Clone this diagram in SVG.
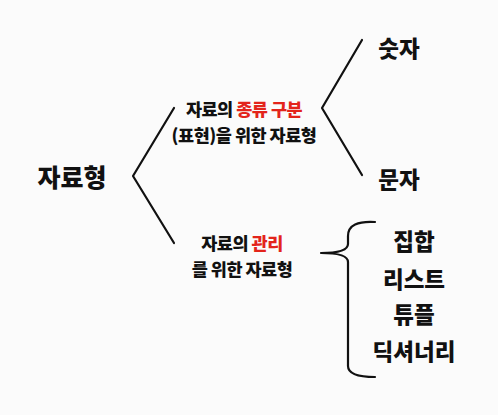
<svg xmlns="http://www.w3.org/2000/svg" width="498" height="415" viewBox="0 0 498 415">
<style>
.t{font-family:"Noto Sans CJK KR","Noto Sans",sans-serif;font-weight:900;fill:#111;text-anchor:middle;dominant-baseline:central}
.big{font-size:22.5px}
.root{font-size:25px}
.mid{font-size:17.5px;letter-spacing:-0.5px}
.red{fill:#e3241b}
.ln{fill:none;stroke:#111;stroke-width:2.2;stroke-linecap:round;stroke-linejoin:round}
</style>
<rect width="498" height="415" fill="#fbfbfb"/>
<g id="connectors">
<polyline class="ln" points="174,108 133,176 174,243"/>
<polyline class="ln" points="362,40 322,108 362,175"/>
<path class="ln" d="M375,222 C358,221 348,225 348,236 L348,244 C348,250 340,253 321,253 C340,253 348,256 348,262 L348,366 C348,374 358,377 375,377"/>
</g>
<g id="root"><text class="t root" x="72" y="176">자료형</text></g>
<g id="kind"><text class="t mid" x="244" y="108">자료의 <tspan class="red">종류 구분</tspan></text><text class="t mid" x="244" y="134">(표현)을 위한 자료형</text></g>
<g id="manage"><text class="t mid" x="242" y="242">자료의 <tspan class="red">관리</tspan></text><text class="t mid" x="242" y="268">를 위한 자료형</text></g>
<g id="num"><text class="t big" x="399" y="47">숫자</text></g>
<g id="str"><text class="t big" x="399" y="178">문자</text></g>
<g id="set"><text class="t big" x="414" y="240">집합</text></g>
<g id="list"><text class="t big" x="414" y="278">리스트</text></g>
<g id="tuple"><text class="t big" x="414" y="313">튜플</text></g>
<g id="dict"><text class="t big" x="414" y="350">딕셔너리</text></g>
</svg>
